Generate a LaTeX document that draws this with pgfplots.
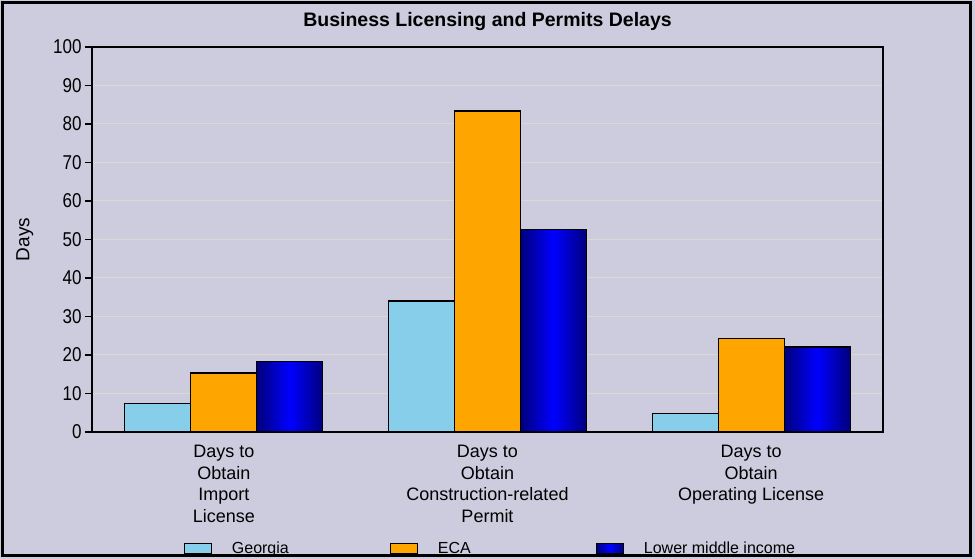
\documentclass[border=0pt]{standalone}
\usepackage{fontspec}
\setmainfont{Liberation Sans}
\newfontfamily\narrowfont{Liberation Sans}[FakeStretch=0.85]
\usepackage{pgfplots}
\pgfplotsset{compat=1.18}
\definecolor{bg}{RGB}{204,204,222}
\definecolor{grd}{RGB}{218,218,208}
\definecolor{sky}{RGB}{135,206,235}
\definecolor{org}{RGB}{255,165,0}
\definecolor{navyb}{RGB}{0,0,125}
\begin{document}
\begin{tikzpicture}[x=1pt,y=1pt]
\fill[bg] (0,0) rectangle (975,559);
\begin{axis}[
  at={(92pt,127pt)}, anchor=south west,
  width=791pt, height=385pt, scale only axis,
  axis background/.style={fill=bg},
  ybar=0pt, bar width=66pt,
  xmin=-0.5, xmax=2.5, ymin=0, ymax=100,
  xtick={0,1,2},
  xticklabels={{Days to\\Obtain\\Import\\License},{Days to\\Obtain\\Construction-related\\Permit},{Days to\\Obtain\\Operating License}},
  xtick style={draw=none},
  xticklabel style={align=center, font=\fontsize{18}{21.5}\selectfont, yshift=-3pt},
  ytick={0,10,...,100},
  ytick pos=left, tick align=outside,
  major tick length=7pt,
  yticklabel style={font=\narrowfont\fontsize{20}{22}\selectfont},
  /pgf/number format/assume math mode=true,
  ymajorgrids, grid style={grd, line width=1pt},
  axis line style={black, line width=1.6pt},
  tick style={black, line width=1.2pt},
  ylabel={Days},
  ylabel style={at={(axis description cs:-0.085,0.5)}, anchor=center, font=\fontsize{19}{20}\selectfont},
  title={\bfseries Business Licensing and Permits Delays},
  title style={at={(axis description cs:0.5,1)}, anchor=center, yshift=19pt, font=\fontsize{19.5}{22}\selectfont},
  legend columns=3,
  legend style={at={(axis description cs:0.5,-0.302)}, anchor=center, xshift=3pt, draw=none, fill=none,
    font=\fontsize{16}{18}\selectfont},
  legend image code/.code={\draw[#1, line width=1pt] (0pt,-5pt) rectangle (27pt,5pt);},
]
\addplot[draw=black, line width=1.2pt, fill=sky, bar shift=-66pt] coordinates {(0,7.3) (1,34.0) (2,4.9)};
\addlegendentry{\hspace{18pt}\makebox[156pt][l]{Georgia}}
\addplot[draw=black, line width=1.2pt, fill=org, bar shift=0pt] coordinates {(0,15.3) (1,83.4) (2,24.2)};
\addlegendentry{\hspace{18pt}\makebox[156pt][l]{ECA}}
\addplot[draw=black, line width=1.2pt, left color=navyb, right color=navyb, middle color=blue, bar shift=66pt] coordinates {(0,18.4)};
\addlegendentry{\hspace{18pt}Lower middle income}
\addplot[draw=black, line width=1.2pt, left color=navyb, right color=navyb, middle color=blue, bar shift=66pt, forget plot] coordinates {(1,52.7)};
\addplot[draw=black, line width=1.2pt, left color=navyb, right color=navyb, middle color=blue, bar shift=66pt, forget plot] coordinates {(2,22.1)};
\end{axis}
\draw[line width=3.5pt] (2.5,3.5) rectangle (970.5,556.5);
\end{tikzpicture}
\end{document}
